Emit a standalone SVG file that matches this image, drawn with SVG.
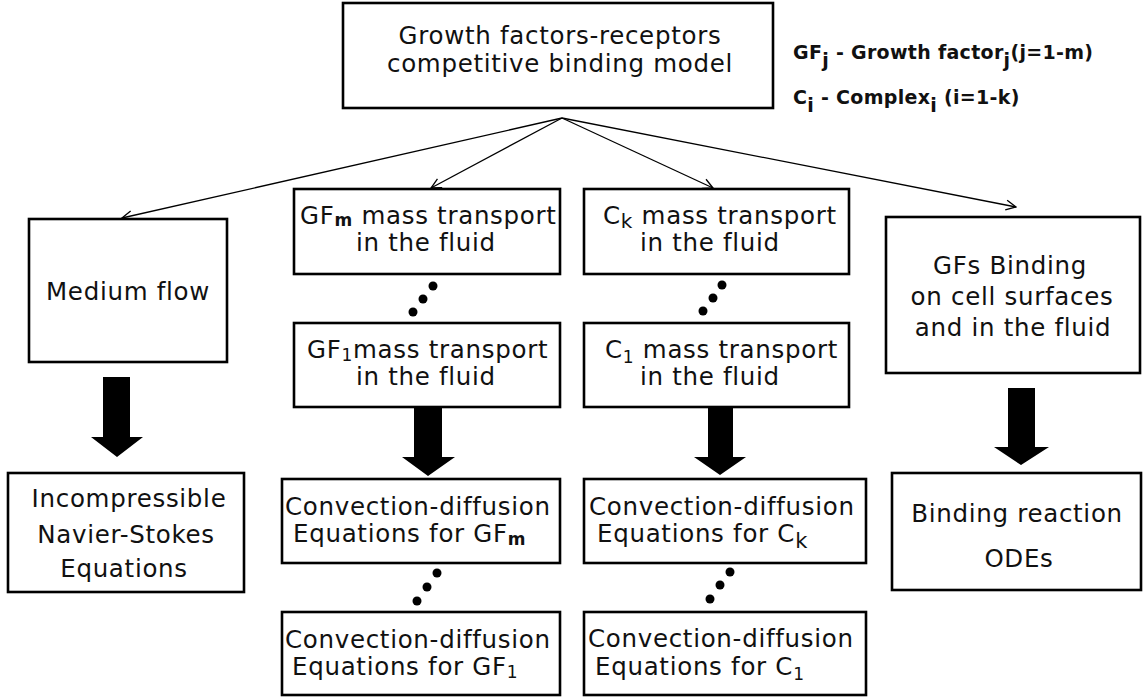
<svg xmlns="http://www.w3.org/2000/svg" width="1143" height="700" viewBox="0 0 1143 700">
<defs>
<style>
.box{fill:#fff;stroke:#000;stroke-width:2.6}
.t{font-family:"DejaVu Sans","Liberation Sans",sans-serif;font-size:24.5px;letter-spacing:0.7px;fill:#111}
.c{text-anchor:middle}
.lg{font-family:"DejaVu Sans","Liberation Sans",sans-serif;font-size:19px;font-weight:bold;letter-spacing:0.3px;fill:#111}
.sub{font-size:17px}
.conn{stroke:#000;stroke-width:1.3;fill:none}
.blk{fill:#000}
.dot{fill:#000}
</style>
<marker id="open" viewBox="0 0 12 12" refX="11" refY="6" markerWidth="12" markerHeight="12" markerUnits="userSpaceOnUse" orient="auto">
<path d="M1,1 L11,6 L1,11" fill="none" stroke="#000" stroke-width="1.3"/>
</marker>
</defs>
<rect width="1143" height="700" fill="#fff"/>

<g id="connectors">
<line class="conn" x1="562" y1="118" x2="122" y2="218" marker-end="url(#open)"/>
<line class="conn" x1="562" y1="118" x2="431" y2="188" marker-end="url(#open)"/>
<line class="conn" x1="562" y1="118" x2="713" y2="188" marker-end="url(#open)"/>
<line class="conn" x1="562" y1="118" x2="1016" y2="207" marker-end="url(#open)"/>
<polygon class="blk" points="103,377 130,377 130,437 143,437 117,457 91,437 103,437"/>
<polygon class="blk" points="414,407 442,407 442,457 455,457 428,476 402,457 414,457"/>
<polygon class="blk" points="708,407 733,407 733,457 746,457 720,475 694,457 708,457"/>
<polygon class="blk" points="1008,388 1035,388 1035,447 1049,447 1021,465 994,447 1008,447"/>
<circle class="dot" cx="433" cy="286" r="4.5"/><circle class="dot" cx="423" cy="299" r="4.5"/><circle class="dot" cx="413" cy="312" r="4.5"/>
<circle class="dot" cx="722" cy="285" r="4.5"/><circle class="dot" cx="713" cy="298" r="4.5"/><circle class="dot" cx="703" cy="311" r="4.5"/>
<circle class="dot" cx="437" cy="573" r="4.5"/><circle class="dot" cx="427" cy="587" r="4.5"/><circle class="dot" cx="417" cy="601" r="4.5"/>
<circle class="dot" cx="730" cy="572" r="4.5"/><circle class="dot" cx="720" cy="585" r="4.5"/><circle class="dot" cx="710" cy="599" r="4.5"/>
</g>

<g id="top">
<rect class="box" x="343" y="3" width="430" height="105"/>
<text class="t c" x="560" y="44">Growth factors-receptors</text>
<text class="t c" x="560" y="72">competitive binding model</text>
</g>

<g id="legend">
<text class="lg" x="793" y="59">GF<tspan dy="8">j</tspan><tspan dy="-8"> - Growth factor</tspan><tspan dy="8">j</tspan><tspan dy="-8">(j=1-m)</tspan></text>
<text class="lg" x="793" y="104">C<tspan dy="8">i</tspan><tspan dy="-8"> - Complex</tspan><tspan dy="8">i</tspan><tspan dy="-8"> (i=1-k)</tspan></text>
</g>

<g id="medium">
<rect class="box" x="29" y="219" width="198" height="143"/>
<text class="t c" x="128" y="300">Medium flow</text>
</g>

<g id="gfm">
<rect class="box" x="294" y="189" width="266" height="85"/>
<text class="t" x="300" y="224">GF<tspan class="sub" font-weight="bold" dy="2">m</tspan><tspan dy="-2"> mass transport</tspan></text>
<text class="t" x="356" y="251">in the fluid</text>
</g>

<g id="gf1">
<rect class="box" x="294" y="323" width="266" height="84"/>
<text class="t" x="307" y="358">GF<tspan class="sub" dy="3">1</tspan><tspan dy="-3">mass transport</tspan></text>
<text class="t" x="356" y="385">in the fluid</text>
</g>

<g id="ck">
<rect class="box" x="584" y="189" width="265" height="85"/>
<text class="t" x="603" y="224">C<tspan font-size="20" dy="4">k</tspan><tspan dy="-4"> mass transport</tspan></text>
<text class="t" x="640" y="251">in the fluid</text>
</g>

<g id="c1">
<rect class="box" x="584" y="323" width="265" height="84"/>
<text class="t" x="605" y="358">C<tspan class="sub" dy="5">1</tspan><tspan dy="-5"> mass transport</tspan></text>
<text class="t" x="640" y="385">in the fluid</text>
</g>

<g id="gfs">
<rect class="box" x="886" y="217" width="254" height="156"/>
<text class="t c" x="1010" y="274">GFs Binding</text>
<text class="t c" x="1012" y="305">on cell surfaces</text>
<text class="t c" x="1013" y="336">and in the fluid</text>
</g>

<g id="ns">
<rect class="box" x="8" y="473" width="236" height="119"/>
<text class="t c" x="129" y="507">Incompressible</text>
<text class="t c" x="126" y="543">Navier-Stokes</text>
<text class="t c" x="124" y="577">Equations</text>
</g>

<g id="cdgfm">
<rect class="box" x="282" y="479" width="278" height="84"/>
<text class="t" x="285" y="515">Convection-diffusion</text>
<text class="t" x="293" y="542">Equations for GF<tspan class="sub" font-weight="bold" dy="3">m</tspan></text>
</g>

<g id="cdgf1">
<rect class="box" x="282" y="612" width="278" height="83"/>
<text class="t" x="285" y="648">Convection-diffusion</text>
<text class="t" x="292" y="675">Equations for GF<tspan class="sub" dy="3">1</tspan></text>
</g>

<g id="cdck">
<rect class="box" x="584" y="479" width="282" height="84"/>
<text class="t" x="589" y="515">Convection-diffusion</text>
<text class="t" x="597" y="542">Equations for C<tspan font-size="21" dy="6">k</tspan></text>
</g>

<g id="cdc1">
<rect class="box" x="584" y="612" width="282" height="83"/>
<text class="t" x="588" y="647">Convection-diffusion</text>
<text class="t" x="595" y="675">Equations for C<tspan class="sub" dy="5">1</tspan></text>
</g>

<g id="ode">
<rect class="box" x="892" y="473" width="249" height="117"/>
<text class="t c" x="1017" y="522">Binding reaction</text>
<text class="t c" x="1019" y="567">ODEs</text>
</g>
</svg>
